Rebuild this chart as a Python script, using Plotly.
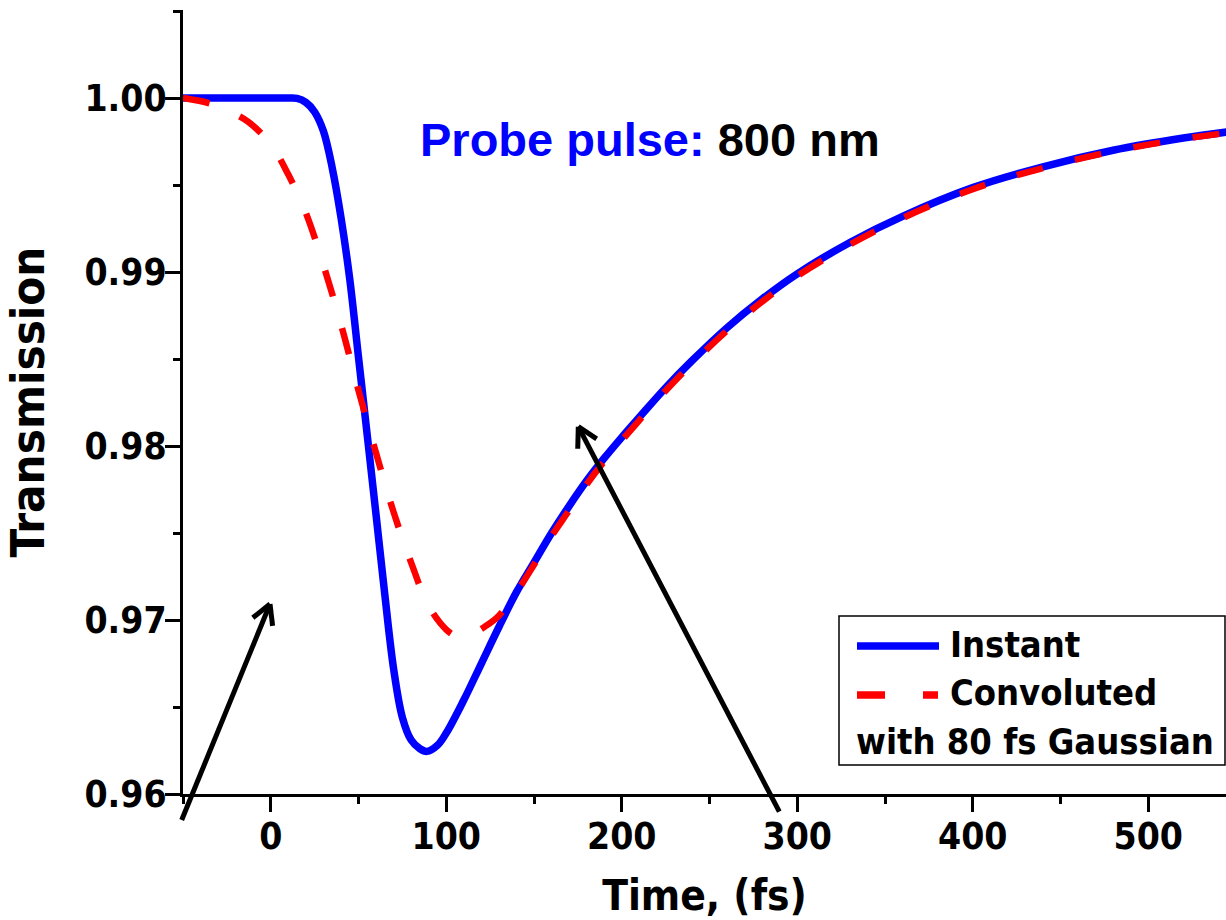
import math
import plotly.graph_objects as go

# ---- data ----
time_instant = [-50, 0, 10, 15, 20, 25, 30, 35, 40, 45, 50, 55, 60, 65, 70, 75, 80, 85, 89, 95,
                100, 110, 120, 130, 140, 150, 160, 170, 180, 190, 200, 210, 225, 240, 260, 280,
                300, 330, 360, 400, 440, 480, 520, 545]
trans_instant = [1.0000, 1.0000, 1.0000, 0.99998, 0.99975, 0.99920, 0.99810, 0.99600, 0.99315,
                 0.98960, 0.98510, 0.98060, 0.97605, 0.97145, 0.96720, 0.96440, 0.96310, 0.96260,
                 0.96245, 0.96280, 0.96350, 0.96540, 0.96750, 0.96960, 0.97160, 0.97330, 0.97500,
                 0.97655, 0.97800, 0.97930, 0.98050, 0.98165, 0.98335, 0.98490, 0.98680, 0.98845,
                 0.98990, 0.99170, 0.99320, 0.99485, 0.99605, 0.99700, 0.99770, 0.99805]

time_conv = [-50, -35, -25, -13, 0, 10, 20, 30, 40, 50, 60, 70, 80, 90, 100, 105, 110, 115, 122,
             130, 140, 150, 160, 170, 180, 190, 200, 210, 225, 240, 260, 280, 300, 330, 360, 400,
             440, 480, 520, 545]
trans_conv = [1.0000, 0.99970, 0.99930, 0.99864, 0.99735, 0.99560, 0.99340, 0.99040, 0.98700,
              0.98320, 0.97960, 0.97620, 0.97330, 0.97080, 0.96945, 0.96910, 0.96902, 0.96920,
              0.96962, 0.97025, 0.97160, 0.97318, 0.97482, 0.97630, 0.97780, 0.97912, 0.98032,
              0.98148, 0.98318, 0.98473, 0.98663, 0.98830, 0.98977, 0.99158, 0.99310, 0.99476,
              0.99598, 0.99694, 0.99765, 0.99800]

x_ticks = [0, 100, 200, 300, 400, 500]
y_ticks = [0.96, 0.97, 0.98, 0.99, 1.00]
x_range = [-50, 544.3]
y_range = [0.96, 1.00506]

series_names = ["Instant", "Convoluted"]
legend_extra = "with 80 fs Gaussian"

# ---- layout geometry ----
W, H = 1226, 920
ML, MR, MT, MB = 183, 0, 10, 126
PW, PH = W - ML - MR, H - MT - MB

def px(xp):
    return (xp - ML) / PW

def py(yp):
    return (H - MB - yp) / PH

FAM = "DejaVu Sans Condensed, DejaVu Sans"
TICKFONT = dict(family=FAM, size=37, color="black", weight="bold")

fig = go.Figure()
fig.add_trace(go.Scatter(x=time_instant, y=trans_instant, mode="lines", name=series_names[0],
                         line=dict(color="#0000ff", width=7.5, shape="spline", smoothing=1.0),
                         showlegend=False))
fig.add_trace(go.Scatter(x=time_conv, y=trans_conv, mode="lines", name=series_names[1],
                         line=dict(color="#ff0000", width=6.5, dash="27px,33px",
                                   shape="spline", smoothing=1.0),
                         showlegend=False))

fig.update_layout(
    width=W, height=H,
    margin=dict(l=ML, r=MR, t=MT, b=MB, pad=0),
    paper_bgcolor="white", plot_bgcolor="white",
    xaxis=dict(range=x_range, tickvals=x_ticks, ticks="outside", ticklen=15, tickwidth=3,
               tickcolor="black", showline=True, linewidth=3, linecolor="black",
               showgrid=False, zeroline=False, tickfont=TICKFONT, ticklabelstandoff=-7,
               minor=dict(dtick=50, ticks="outside", ticklen=7, tickwidth=3, tickcolor="black",
                          showgrid=False),
               title=dict(text="Time, (fs)", standoff=32,
                          font=dict(family=FAM, size=42, color="black", weight="bold"))),
    yaxis=dict(range=y_range, tickvals=y_ticks, tickformat=".2f", ticks="outside", ticklen=15,
               tickwidth=3, tickcolor="black", showline=True, linewidth=3, linecolor="black",
               showgrid=False, zeroline=False, tickfont=TICKFONT, ticklabelstandoff=-9,
               minor=dict(dtick=0.005, ticks="outside", ticklen=7, tickwidth=3,
                          tickcolor="black", showgrid=False),
               title=dict(text="Transmission", standoff=26,
                          font=dict(family=FAM, size=47, color="black", weight="bold"))),
)

# annotation text
fig.add_annotation(xref="paper", yref="paper", x=px(418), y=py(139), xanchor="left",
                   yanchor="middle", showarrow=False,
                   text="<span style='color:#0000ff'>Probe pulse:</span> 800 nm",
                   font=dict(family="Liberation Sans, Arial", size=47, color="black",
                             weight="bold"))

# arrows (open V heads)
def arrow(tail, tip, L=22, theta=29):
    dx, dy = tail[0] - tip[0], tail[1] - tip[1]
    n = math.hypot(dx, dy)
    ux, uy = dx / n, dy / n
    segs = [(tail, tip)]
    for s in (1, -1):
        a = math.radians(theta * s)
        bx = ux * math.cos(a) - uy * math.sin(a)
        by = ux * math.sin(a) + uy * math.cos(a)
        segs.append((tip, (tip[0] + L * bx, tip[1] + L * by)))
    for (p0, p1) in segs:
        fig.add_shape(type="line", xref="paper", yref="paper",
                      x0=px(p0[0]), y0=py(p0[1]), x1=px(p1[0]), y1=py(p1[1]),
                      line=dict(color="black", width=5), layer="above")

arrow((181.7, 820), (270, 604))
arrow((779.3, 811.7), (578.3, 426.7))

# legend (drawn manually to match layout)
fig.add_shape(type="rect", xref="paper", yref="paper", x0=px(839), x1=px(1225),
              y0=py(765), y1=py(616), line=dict(color="black", width=1.5),
              fillcolor="white", layer="above")
fig.add_shape(type="line", xref="paper", yref="paper", x0=px(857), x1=px(939),
              y0=py(646), y1=py(646), line=dict(color="#0000ff", width=7.5), layer="above")
fig.add_shape(type="line", xref="paper", yref="paper", x0=px(857), x1=px(938),
              y0=py(695), y1=py(695), line=dict(color="#ff0000", width=7.5, dash="28px,38px"),
              layer="above")
LEGFONT = dict(family=FAM, size=36, color="black", weight="bold")
for txt, xl, yc in [(series_names[0], 948, 644), (series_names[1], 948, 692),
                    (legend_extra, 854, 741)]:
    fig.add_annotation(xref="paper", yref="paper", x=px(xl), y=py(yc), xanchor="left",
                       yanchor="middle", showarrow=False, text=txt, font=LEGFONT)

fig.write_html("out.html", config={"displayModeBar": False},
               post_script="document.body.style.margin='0';document.body.style.overflow='hidden';")
